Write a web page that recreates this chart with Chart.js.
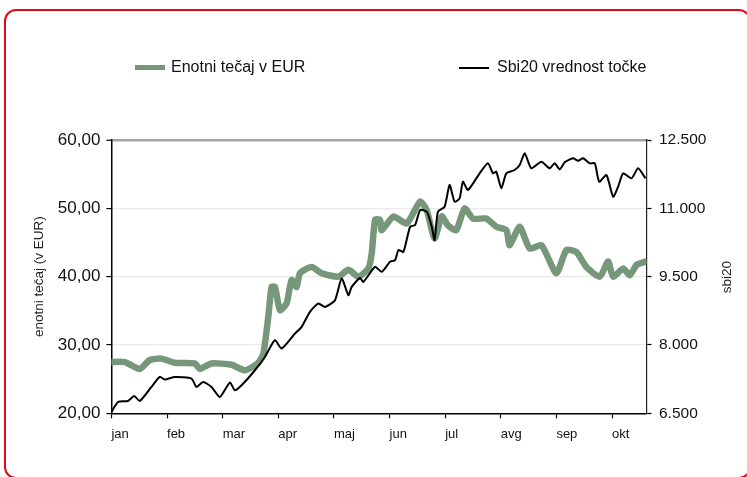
<!DOCTYPE html>
<html>
<head>
<meta charset="utf-8">
<title>Enotni tečaj in Sbi20</title>
<script src="https://cdn.jsdelivr.net/npm/chart.js@4/dist/chart.umd.min.js"></script>
<style>
	body { margin: 0; background: #fff; font-family: "Liberation Sans", Arial, sans-serif; }
	#wrap { position: relative; width: 747px; height: 477px; overflow: hidden; }
	#frame { position: absolute; left: 4px; top: 9px; width: 743px; height: 466px; border: 2.5px solid #e30a1c; border-radius: 12px; }
	#chart { position: absolute; left: 0; top: 0; }
	.lg { position: absolute; top: 58px; height: 18px; line-height: 18px; font-size: 16px; color: #111; white-space: nowrap; }
	.sw { position: absolute; }
	#rightTitle { position: absolute; left: 697px; top: 269px; width: 60px; height: 16px; line-height: 16px; text-align: center; font-size: 13.5px; color: #222; transform: rotate(-90deg); }
</style>
</head>
<body>
<div id="wrap">
	<div id="frame"></div>
	<canvas id="chart" width="747" height="477"></canvas>
	<div class="sw" style="left:135px; top:65px; width:30px; height:5px; background:#77977b;"></div>
	<div class="lg" style="left:171px;">Enotni tečaj v EUR</div>
	<div class="sw" style="left:459px; top:67px; width:30px; height:1.5px; background:#000;"></div>
	<div class="lg" style="left:497px;">Sbi20 vrednost točke</div>
	<div id="rightTitle">sbi20</div>
</div>
<script>
	// meseci na osi x (pozicija = indeks meseca)
	var months = ["jan", "feb", "mar", "apr", "maj", "jun", "jul", "avg", "sep", "okt"];

	// enotni tečaj v EUR (leva os), čas v mesecih od začetka leta
	var tecajT = [0, 0.24, 0.51, 0.69, 0.90, 1.14, 1.50, 1.59, 1.80, 2.16, 2.40, 2.63, 2.73, 2.82, 2.88,
		2.94, 3.03, 3.15, 3.24, 3.33, 3.39, 3.60, 3.78, 4.08, 4.26, 4.44, 4.62, 4.68, 4.74, 4.83,
		4.86, 5.07, 5.31, 5.55, 5.67, 5.81, 5.94, 6.05, 6.20, 6.35, 6.50, 6.74, 6.92, 7.10, 7.16,
		7.34, 7.52, 7.73, 8.00, 8.18, 8.36, 8.54, 8.78, 8.93, 9.02, 9.20, 9.32, 9.44, 9.60];
	var tecajV = [27.5, 27.5, 26.5, 27.8, 28.0, 27.4, 27.3, 26.5, 27.3, 27.1, 26.3, 27.3, 28.7, 34.1, 38.5,
		38.5, 35.1, 36.1, 39.5, 38.5, 40.5, 41.4, 40.5, 40.0, 41.0, 40.0, 41.2, 43.4, 48.3, 48.3,
		46.8, 48.8, 47.8, 51.0, 49.7, 45.6, 48.8, 47.5, 46.8, 50.0, 48.5, 48.5, 47.3, 46.8, 44.6,
		47.3, 44.1, 44.6, 40.5, 43.9, 43.6, 41.4, 40.0, 42.2, 40.0, 41.2, 40.2, 41.7, 42.2];

	// Sbi20 vrednost točke (desna os)
	var sbiT = [0, 0.12, 0.30, 0.41, 0.51, 0.72, 0.87, 0.96, 1.14, 1.44, 1.53, 1.65, 1.80, 1.95, 2.13,
		2.22, 2.34, 2.58, 2.76, 2.94, 3.06, 3.30, 3.42, 3.57, 3.72, 3.84, 4.02, 4.14, 4.26, 4.32,
		4.47, 4.53, 4.74, 4.86, 5.01, 5.10, 5.16, 5.25, 5.37, 5.46, 5.55, 5.67, 5.76, 5.81, 5.87,
		5.99, 6.08, 6.17, 6.26, 6.32, 6.41, 6.62, 6.77, 6.86, 6.92, 7.01, 7.10, 7.25, 7.34, 7.43,
		7.55, 7.73, 7.88, 7.97, 8.06, 8.15, 8.30, 8.39, 8.48, 8.60, 8.69, 8.77, 8.90, 9.02, 9.11,
		9.20, 9.35, 9.47, 9.60];
	var sbiV = [6529, 6748, 6770, 6880, 6770, 7078, 7298, 7241, 7298, 7263, 7078, 7188, 7078, 6858, 7175,
		7006, 7115, 7445, 7737, 8105, 7922, 8252, 8397, 8727, 8911, 8836, 8984, 9461, 9094, 9276,
		9470, 9386, 9716, 9606, 9826, 9863, 10083, 10045, 10595, 10632, 10962, 10925, 10595, 10303, 10925,
		11035, 11512, 11144, 11219, 11584, 11402, 11768, 11988, 11768, 11804, 11439, 11768, 11841, 11951, 12208,
		11878, 12024, 11878, 11988, 11856, 12010, 12098, 12046, 12098, 11988, 11988, 11584, 11731, 11254, 11474,
		11768, 11658, 11878, 11658];

	var leftTicks = [20, 30, 40, 50, 60];
	var rightTicks = [6500, 8000, 9500, 11000, 12500];

	var toPoints = function (t, v) {
		return t.map(function (x, i) { return { x: x, y: v[i] }; });
	};

	var ctx = document.getElementById("chart").getContext("2d");
	var myChart = new Chart(ctx, {
		type: "line",
		data: {
			datasets: [{
				label: "Sbi20 vrednost točke",
				data: toPoints(sbiT, sbiV),
				yAxisID: "y2",
				borderColor: "#000",
				borderWidth: 2,
				pointRadius: 0,
				tension: 0.2,
				order: 0
			}, {
				label: "Enotni tečaj v EUR",
				data: toPoints(tecajT, tecajV),
				yAxisID: "y",
				borderColor: "#77977b",
				borderWidth: 6.5,
				borderJoinStyle: "round",
				borderCapStyle: "round",
				pointRadius: 0,
				tension: 0.2,
				order: 1
			}]
		},
		options: {
			responsive: false,
			devicePixelRatio: 1,
			animation: false,
			layout: { padding: { top: 140, left: 0, right: 0, bottom: 0 } },
			plugins: { legend: { display: false }, tooltip: { enabled: false } },
			scales: {
				x: {
					type: "linear",
					min: 0,
					max: 9.62,
					afterFit: function (s) { s.height = 63.7; },
					afterBuildTicks: function (s) {
						s.ticks = months.map(function (m, i) { return { value: i }; });
					},
					ticks: {
						align: "start",
						padding: 8,
						color: "#111",
						font: { family: "Liberation Sans", size: 13 },
						callback: function (v) { return months[v]; }
					},
					grid: { drawOnChartArea: false, tickLength: 5, tickColor: "#000", tickWidth: 1.2 },
					border: { color: "#000", width: 1.5 }
				},
				y: {
					position: "left",
					min: 20,
					max: 60,
					afterFit: function (s) { s.width = 111.4; },
					afterBuildTicks: function (s) {
						s.ticks = leftTicks.map(function (v) { return { value: v }; });
					},
					ticks: {
						padding: 6,
						color: "#111",
						font: { family: "Liberation Sans", size: 17 },
						callback: function (v) { return v.toFixed(2).replace(".", ","); }
					},
					grid: {
						tickLength: 5,
						tickColor: "#000",
						tickWidth: 1.2,
						color: function (c) {
							if (c.tick.value === 20) return "rgba(0,0,0,0)";
							if (c.tick.value === 60) return "#a3a3a3";
							return "#e9e9e9";
						},
						lineWidth: function (c) { return c.tick.value === 60 ? 2.5 : 1.2; }
					},
					border: { color: "#000", width: 1.5 },
					title: {
						display: true,
						text: "enotni tečaj (v EUR)",
						color: "#222",
						font: { family: "Liberation Sans", size: 13.5 },
						padding: { top: 31, bottom: 0 }
					}
				},
				y2: {
					position: "right",
					min: 6500,
					max: 12500,
					afterFit: function (s) { s.width = 100.5; },
					afterBuildTicks: function (s) {
						s.ticks = rightTicks.map(function (v) { return { value: v }; });
					},
					ticks: {
						padding: 7.5,
						color: "#111",
						font: { family: "Liberation Sans", size: 15.5 },
						callback: function (v) { return String(v).replace(/\B(?=(\d{3})+(?!\d))/g, "."); }
					},
					grid: { drawOnChartArea: false, tickLength: 5, tickColor: "#000", tickWidth: 1.2 },
					border: { color: "#222", width: 1.2 }
				}
			}
		}
	});
</script>
</body>
</html>
